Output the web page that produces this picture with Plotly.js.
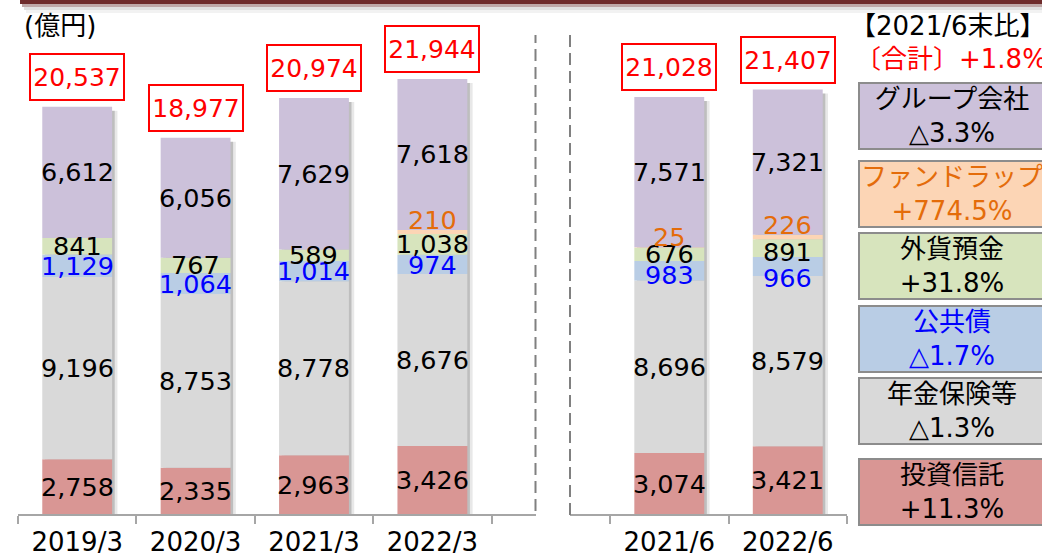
<!DOCTYPE html>
<html><head><meta charset="utf-8">
<script src="https://cdn.plot.ly/plotly-3.0.1.min.js"></script>
<style>html,body{margin:0;padding:0;background:#fff;} #chart{width:1042px;height:555px;}</style>
</head><body><div id="chart"></div>
<script>
// ---------------- data ----------------
const periodsLeft = ['2019/3', '2020/3', '2021/3', '2022/3'];
const periodsRight = ['2021/6', '2022/6'];
const seriesNames = ['投資信託', '年金保険等', '公共債', '外貨預金', 'ファンドラップ', 'グループ会社'];
const toushin    = [2758, 2335, 2963, 3426, 3074, 3421];
const nenkin     = [9196, 8753, 8778, 8676, 8696, 8579];
const koukyousai = [1129, 1064, 1014, 974, 983, 966];
const gaika      = [841, 767, 589, 1038, 676, 891];
const fundwrap   = [0, 0, 0, 210, 25, 226];
const group      = [6612, 6056, 7629, 7618, 7571, 7321];
const totals     = [20537, 18977, 20974, 21944, 21028, 21407];
const changes    = ['+11.3%', '△1.3%', '△1.7%', '+31.8%', '+774.5%', '△3.3%'];
const totalChange = '+1.8%';
const compareLabel = '【2021/6末比】';
const totalLabel = '〔合計〕';
const unitLabel = '(億円)';

// ---------------- style ----------------
const FONT = "'DejaVu Sans', 'Noto Sans CJK JP', sans-serif";
const fillColors  = ['#d99694', '#d9d9d9', '#b9cde5', '#d7e4bd', '#fcd5b5', '#ccc1da'];
const labelColors = ['#000000', '#000000', '#0000ff', '#000000', '#e46c0a', '#000000'];
const legendText  = ['#000000', '#000000', '#0000ff', '#000000', '#e46c0a', '#000000'];
const legendCenterPx = [491.5, 411, 338.5, 266, 194, 116];
const labelNudge = {'2:5': -12, '2:4': -4, '3:5': -4, '2:3': -1};
const BAR_W = 0.59;
const W = 1042, H = 555, MB = 41;
const PH = H - MB;             // plot height in px
const PX_PER_UNIT = 0.01983;
const AXIS_GRAY = '#a6a6a6';

const periods = periodsLeft.concat(periodsRight);
const series = [toushin, nenkin, koukyousai, gaika, fundwrap, group];
const bases = series.map((s, si) => periods.map((p, i) => {
  let b = 0; for (let k = 0; k < si; k++) b += series[k][i]; return b;
}));
const tops = periods.map((p, i) => series.reduce((a, s) => a + s[i], 0));

const sides = [
  {cats: periodsLeft, idx: [0, 1, 2, 3], xa: 'x'},
  {cats: periodsRight, idx: [4, 5], xa: 'x2'}
];

const traces = [];
const annotations = [];
const drop = 4 / PX_PER_UNIT;

sides.forEach(side => {
  // soft shadow layers
  [[0.022, 'rgba(0,0,0,0.18)'], [0.045, 'rgba(0,0,0,0.09)']].forEach(([off, col]) => {
    traces.push({
      type: 'bar', x: side.cats, xaxis: side.xa, yaxis: 'y',
      y: side.idx.map(i => tops[i] - drop), base: side.idx.map(() => 0),
      width: BAR_W, offset: -BAR_W / 2 + off,
      marker: {color: col, line: {width: 0}}, hoverinfo: 'skip', showlegend: false
    });
  });
  series.forEach((s, si) => {
    traces.push({
      type: 'bar', name: seriesNames[si], x: side.cats, xaxis: side.xa, yaxis: 'y',
      y: side.idx.map(i => s[i]), base: side.idx.map(i => bases[si][i]),
      width: BAR_W, marker: {color: fillColors[si], line: {width: 0}},
      hoverinfo: 'skip', showlegend: false
    });
    side.idx.forEach((i, j) => {
      const v = s[i];
      if (!v) return;
      const isFund = si === 4;
      annotations.push({
        xref: side.xa, yref: 'y', x: side.cats[j],
        y: isFund ? bases[si][i] + v : bases[si][i] + v / 2,
        yshift: isFund ? 10 : (labelNudge[si + ':' + i] || 0),
        text: v.toLocaleString('en-US'), showarrow: false,
        xanchor: 'center', yanchor: 'middle',
        font: {family: FONT, size: 25.5, color: labelColors[si]}
      });
    });
  });
  // totals boxes
  side.idx.forEach((i, j) => {
    annotations.push({
      xref: side.xa, yref: 'y', x: side.cats[j], y: tops[i],
      xanchor: 'center', yanchor: 'bottom', yshift: 6,
      text: totals[i].toLocaleString('en-US'), showarrow: false,
      font: {family: FONT, size: 25, color: '#ff0000'},
      bordercolor: '#ff0000', borderwidth: 2, borderpad: 0, width: 92, height: 44,
      bgcolor: '#ffffff'
    });
  });
});

const py = Y => (PH - Y) / PH;   // pixel row -> paper y
const px = X => X / W;

function paperText(x, y, text, color) {
  return {xref: 'paper', yref: 'paper', x: px(x), y: py(y), xanchor: 'center', yanchor: 'middle',
    text: text, showarrow: false, font: {family: FONT, size: 26, color: color}};
}
annotations.push(paperText(60, 26, unitLabel, '#000000'));
annotations.push(paperText(947, 26, compareLabel, '#000000'));
annotations.push(paperText(951, 59, totalLabel + totalChange, '#ff0000'));

seriesNames.forEach((n, si) => {
  annotations.push({
    xref: 'paper', yref: 'paper', x: px(952), y: py(legendCenterPx[si]),
    xanchor: 'center', yanchor: 'middle',
    text: n + '<br>' + changes[si], showarrow: false,
    width: 184, height: 64, borderpad: 0, borderwidth: 2, bordercolor: '#8c8c8c',
    bgcolor: fillColors[si], align: 'center',
    font: {family: FONT, size: 26, color: legendText[si]}
  });
});

const axisCommon = {
  type: 'category', showline: true, linecolor: AXIS_GRAY, linewidth: 2,
  ticks: 'outside', tickson: 'boundaries', ticklen: 8, tickwidth: 2, tickcolor: AXIS_GRAY,
  showgrid: false, zeroline: false, fixedrange: true, ticklabelstandoff: 4,
  tickfont: {family: FONT, size: 26, color: '#000'}, anchor: 'y'
};

const shapes = [
  // divider dashed lines
  {type: 'line', xref: 'x domain', yref: 'paper', x0: 1, x1: 1, y0: py(511), y1: py(35),
   line: {color: '#808080', width: 2, dash: '12px,6px'}},
  {type: 'line', xref: 'x2 domain', yref: 'paper', x0: 0, x1: 0, y0: py(515), y1: py(35),
   line: {color: '#808080', width: 2, dash: '12px,6px'}},
  // header band and its shadow
  {type: 'rect', xref: 'paper', yref: 'paper', x0: px(20), x1: 1, y0: py(4), y1: py(-2),
   fillcolor: '#6e2b2b', line: {width: 0}},
  {type: 'rect', xref: 'paper', yref: 'paper', x0: px(22), x1: 1, y0: py(7), y1: py(4),
   fillcolor: 'rgba(110,60,60,0.45)', line: {width: 0}},
  {type: 'rect', xref: 'paper', yref: 'paper', x0: px(24), x1: 1, y0: py(10), y1: py(7),
   fillcolor: 'rgba(0,0,0,0.12)', line: {width: 0}},
  {type: 'rect', xref: 'paper', yref: 'paper', x0: px(26), x1: 1, y0: py(13), y1: py(10),
   fillcolor: 'rgba(0,0,0,0.05)', line: {width: 0}}
];

const layout = {
  width: W, height: H, margin: {l: 0, r: 0, t: 0, b: MB},
  paper_bgcolor: '#ffffff', plot_bgcolor: 'rgba(0,0,0,0)',
  barmode: 'overlay', showlegend: false,
  font: {family: FONT},
  xaxis: Object.assign({}, axisCommon, {domain: [px(18), px(535.5)], range: [-0.5, 3.871],
    categoryorder: 'array', categoryarray: periodsLeft}),
  xaxis2: Object.assign({}, axisCommon, {domain: [px(570), px(847)], range: [-0.838, 1.5],
    categoryorder: 'array', categoryarray: periodsRight}),
  yaxis: {range: [0, PH / PX_PER_UNIT], visible: false, fixedrange: true},
  annotations: annotations,
  shapes: shapes
};

Plotly.newPlot('chart', traces, layout, {staticPlot: true, displayModeBar: false});
</script>
</body></html>
